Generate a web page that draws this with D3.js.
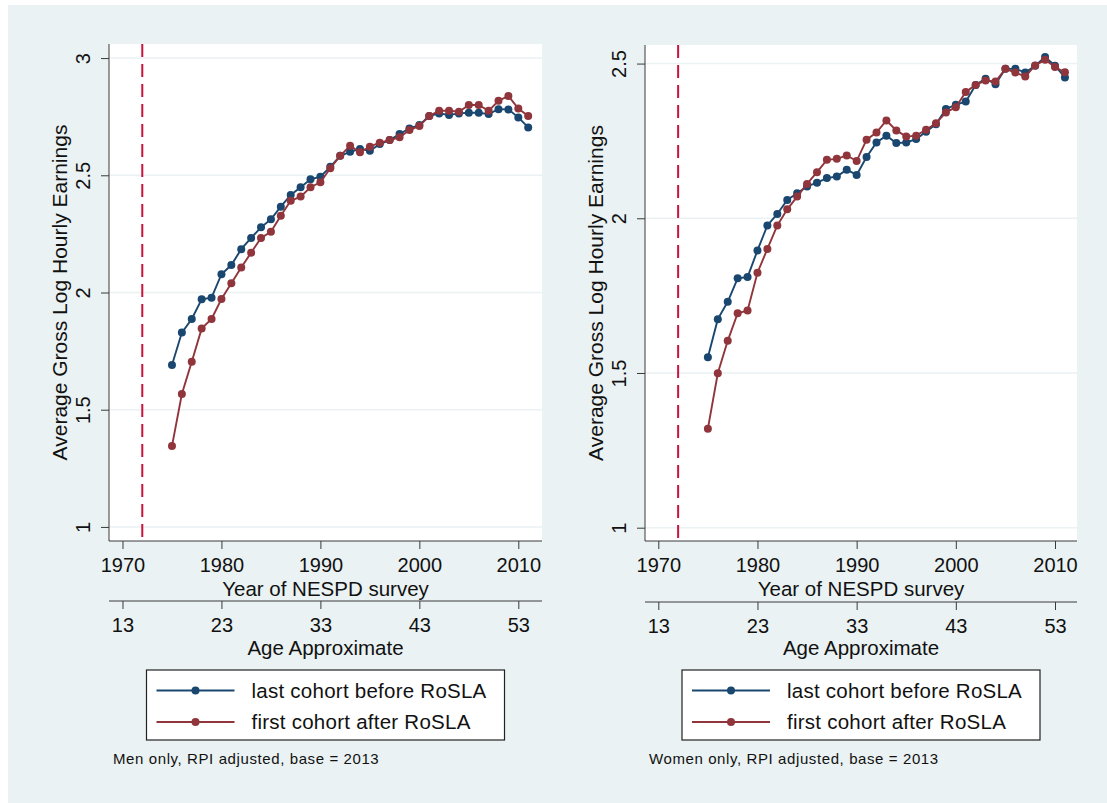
<!DOCTYPE html>
<html>
<head>
<meta charset="utf-8">
<script src="https://cdn.jsdelivr.net/npm/d3@7"></script>
<style>
  html, body { margin: 0; padding: 0; background: #eaf2f3; }
  svg { display: block; }
  text { font-family: "Liberation Sans", Arial, sans-serif; fill: #111; }
</style>
</head>
<body>
<svg id="chart" width="1107" height="803"></svg>
<script>
// ---------------- DATA ----------------
const years = [1975,1976,1977,1978,1979,1980,1981,1982,1983,1984,1985,1986,1987,1988,1989,1990,1991,1992,1993,1994,1995,1996,1997,1998,1999,2000,2001,2002,2003,2004,2005,2006,2007,2008,2009,2010,2011];

const menBefore = [1.691,1.829,1.887,1.971,1.978,2.078,2.117,2.185,2.233,2.278,2.312,2.366,2.416,2.449,2.483,2.494,2.536,2.583,2.600,2.612,2.605,2.633,2.650,2.676,2.700,2.714,2.753,2.764,2.757,2.764,2.767,2.767,2.761,2.782,2.781,2.747,2.704];
const menAfter  = [1.345,1.567,1.705,1.846,1.887,1.972,2.039,2.107,2.170,2.233,2.259,2.327,2.391,2.409,2.449,2.470,2.530,2.583,2.626,2.598,2.622,2.639,2.650,2.662,2.693,2.710,2.753,2.775,2.775,2.771,2.800,2.800,2.775,2.818,2.838,2.785,2.753];

const womenBefore = [1.551,1.674,1.730,1.806,1.810,1.896,1.977,2.014,2.059,2.081,2.103,2.115,2.130,2.135,2.157,2.140,2.198,2.245,2.267,2.243,2.245,2.256,2.280,2.304,2.353,2.367,2.377,2.431,2.451,2.433,2.483,2.483,2.471,2.493,2.521,2.493,2.455];
const womenAfter  = [1.320,1.499,1.604,1.693,1.702,1.824,1.901,1.977,2.029,2.070,2.111,2.149,2.189,2.192,2.203,2.185,2.254,2.277,2.316,2.284,2.264,2.267,2.286,2.307,2.342,2.359,2.408,2.431,2.445,2.442,2.483,2.471,2.458,2.494,2.512,2.489,2.472];

const yearTicks = [1970,1980,1990,2000,2010];
const ageTicks = [13,23,33,43,53];
const ageOffset = 1957;            // age approximate = year - 1957
const menYTicks = [1,1.5,2,2.5,3];
const womenYTicks = [1,1.5,2,2.5];
const roslaYear = 1972;

const seriesNames = ["last cohort before RoSLA","first cohort after RoSLA"];
const notes = ["Men only, RPI adjusted, base = 2013","Women only, RPI adjusted, base = 2013"];
const yTitle = "Average Gross Log Hourly Earnings";
const xTitle = "Year of NESPD survey";
const ageTitle = "Age Approximate";

// ---------------- STYLE ----------------
const BG = "#eaf2f3";
const BLUE = "#1a476f";
const RED = "#90353b";
const CRIMSON = "#c8143c";
const AXIS = "#3a3a3a";
const FONT = "'Liberation Sans', Arial, sans-serif";

const svg = d3.select("#chart");
svg.append("rect").attr("width",1107).attr("height",803).attr("fill",BG);
svg.append("rect").attr("width",1107).attr("height",5).attr("fill","#fff");
svg.append("rect").attr("width",8).attr("height",803).attr("fill","#fff");

const panels = [
  {x0:109, x1:542, y0:44, y1:541, xDom:[1968.636,2012.395], yDom:[0.94,3.06], yTicks:menYTicks, before:menBefore, after:menAfter, note:notes[0], ageY:601},
  {x0:645, x1:1077, y0:45, y1:541, xDom:[1968.659,2012.218], yDom:[0.957,2.56], yTicks:womenYTicks, before:womenBefore, after:womenAfter, note:notes[1], ageY:602}
];

panels.forEach(p => {
  const g = svg.append("g");
  const x = d3.scaleLinear().domain(p.xDom).range([p.x0,p.x1]);
  const y = d3.scaleLinear().domain(p.yDom).range([p.y1,p.y0]);
  const xAge = d3.scaleLinear().domain([p.xDom[0]-ageOffset, p.xDom[1]-ageOffset]).range([p.x0,p.x1]);

  // plot region
  g.append("rect").attr("x",p.x0).attr("y",p.y0).attr("width",p.x1-p.x0).attr("height",p.y1-p.y0).attr("fill","#fff");

  // grid
  g.selectAll(".grid").data(p.yTicks).enter().append("line")
    .attr("x1",p.x0).attr("x2",p.x1).attr("y1",d=>y(d)).attr("y2",d=>y(d))
    .attr("stroke",BG).attr("stroke-width",1.6);

  // RoSLA line
  g.append("line").attr("x1",x(roslaYear)).attr("x2",x(roslaYear)).attr("y1",p.y0).attr("y2",p.y1)
    .attr("stroke",CRIMSON).attr("stroke-width",2).attr("stroke-dasharray","13,7");

  // y axis
  const ya = g.append("g").attr("transform",`translate(${p.x0},0)`)
    .call(d3.axisLeft(y).tickValues(p.yTicks).tickSize(8).tickFormat(d3.format("~g")));
  ya.select(".domain").attr("stroke",AXIS).attr("d",`M0,${p.y0}V${p.y1}`);
  ya.selectAll(".tick line").attr("stroke",AXIS);
  ya.selectAll(".tick text").attr("x",0).attr("dy",null).attr("y",-19)
    .attr("transform","rotate(-90)").style("text-anchor","middle")
    .style("font-size","20px").style("font-family",FONT).attr("fill","#111");

  // x axis (year)
  const xa = g.append("g").attr("transform",`translate(0,${p.y1})`)
    .call(d3.axisBottom(x).tickValues(yearTicks).tickSize(8).tickFormat(d3.format("d")));
  xa.select(".domain").attr("stroke",AXIS).attr("d",`M${p.x0},0H${p.x1}`);
  xa.selectAll(".tick line").attr("stroke",AXIS);
  xa.selectAll(".tick text").attr("y",30.5).attr("dy",null)
    .style("font-size","20px").style("font-family",FONT).attr("fill","#111");

  // age axis
  const aa = g.append("g").attr("transform",`translate(0,${p.ageY})`)
    .call(d3.axisBottom(xAge).tickValues(ageTicks).tickSize(8).tickFormat(d3.format("d")));
  aa.select(".domain").attr("stroke",AXIS).attr("d",`M${p.x0},0H${p.x1}`);
  aa.selectAll(".tick line").attr("stroke",AXIS);
  aa.selectAll(".tick text").attr("y",30.5).attr("dy",null)
    .style("font-size","20px").style("font-family",FONT).attr("fill","#111");

  const cx = (p.x0+p.x1)/2;
  g.append("text").attr("x",cx).attr("y",595.5).attr("text-anchor","middle").style("font-size","20.5px").text(xTitle);
  g.append("text").attr("x",cx).attr("y",654.5).attr("text-anchor","middle").style("font-size","20.5px").text(ageTitle);
  g.append("text").attr("transform",`translate(${p.x0-42},${(p.y0+p.y1)/2}) rotate(-90)`)
    .attr("text-anchor","middle").style("font-size","21px").text(yTitle);

  // series
  const line = d3.line().x((d,i)=>x(years[i])).y(d=>y(d));
  [[p.before,BLUE],[p.after,RED]].forEach(([vals,col]) => {
    g.append("path").datum(vals).attr("d",line).attr("fill","none").attr("stroke",col).attr("stroke-width",1.9);
    g.selectAll(null).data(vals).enter().append("circle")
      .attr("cx",(d,i)=>x(years[i])).attr("cy",d=>y(d)).attr("r",4).attr("fill",col);
  });

  // legend
  const lx = cx - 179, ly = 670;
  const lg = g.append("g");
  lg.append("rect").attr("x",lx).attr("y",ly).attr("width",358).attr("height",70)
    .attr("fill","#fff").attr("stroke","#222").attr("stroke-width",1.2);
  [[BLUE,seriesNames[0],690.5],[RED,seriesNames[1],722]].forEach(([col,name,yy]) => {
    lg.append("line").attr("x1",lx+10).attr("x2",lx+88).attr("y1",yy).attr("y2",yy).attr("stroke",col).attr("stroke-width",1.9);
    lg.append("circle").attr("cx",lx+49).attr("cy",yy).attr("r",4).attr("fill",col);
    lg.append("text").attr("x",lx+105).attr("y",yy+7).style("font-size","20.5px").style("letter-spacing","0.25px").text(name);
  });

  g.append("text").attr("x",p.x0+4).attr("y",764).style("font-size","15px").style("letter-spacing","0.6px").text(p.note);
});
</script>
</body>
</html>
